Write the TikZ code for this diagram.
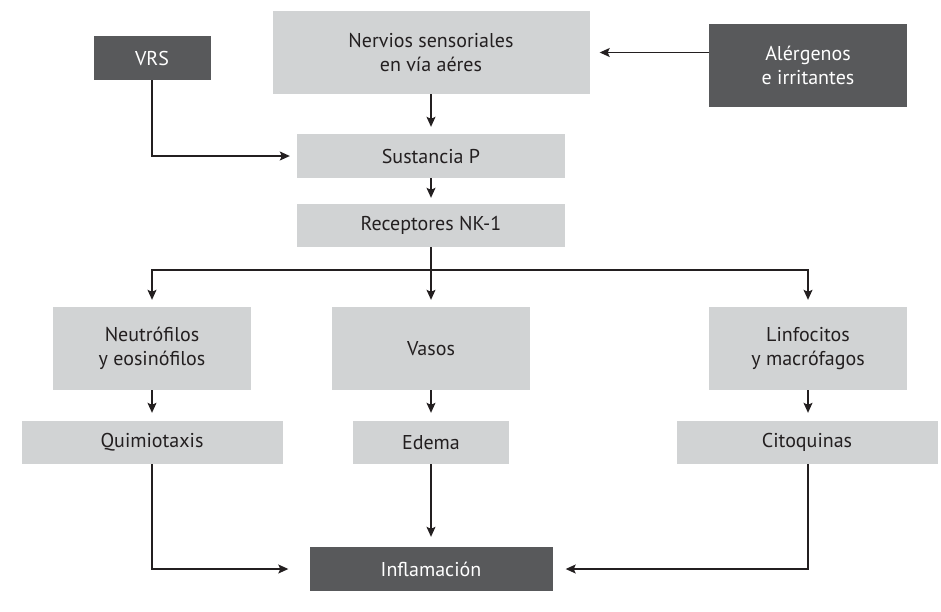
\documentclass[tikz,border=0pt]{standalone}
\usepackage{fontspec}
\setmainfont{PT Sans}
\usetikzlibrary{arrows.meta}
\definecolor{cajaclara}{HTML}{D1D3D4}
\definecolor{cajaoscura}{HTML}{58595B}
\definecolor{texto}{HTML}{231F20}

\begin{document}
\begin{tikzpicture}[x=1pt,y=-1pt,>={Stealth[length=10pt,width=9pt,inset=2pt]},
    clara/.style={fill=cajaclara,text=texto,inner sep=0pt,align=center,font=\fontsize{20}{24}\selectfont},
    oscura/.style={fill=cajaoscura,text=white,inner sep=0pt,align=center,font=\fontsize{20}{24}\selectfont},
    flecha/.style={->,draw=texto,line width=1.2pt}]

    \useasboundingbox (0,0) rectangle (941,611);

    % cajas de arriba
    \node[clara,minimum width=317,minimum height=83] (nervios) at (431,52.5) {Nervios sensoriales\\en vía aéres};
    \node[oscura,minimum width=117,minimum height=44] (vrs) at (152,58) {VRS};
    \node[oscura,minimum width=198,minimum height=83] (alergenos) at (808,65.5) {Alérgenos\\e irritantes};
    \node[clara,minimum width=268,minimum height=44] (sustancia) at (431,156) {Sustancia P};
    \node[clara,minimum width=268,minimum height=43] (receptores) at (431,225.5) {Receptores NK-1};

    % tres ramas
    \node[clara,minimum width=198,minimum height=83] (neutro) at (152,348.5) {Neutrófilos\\y eosinófilos};
    \node[clara,minimum width=198,minimum height=83] (vasos) at (431,348.5) {Vasos};
    \node[clara,minimum width=198,minimum height=83] (linfo) at (808,348.5) {Linfocitos\\y macrófagos};

    \node[clara,minimum width=261,minimum height=43] (quimio) at (152,442.5) {Quimiotaxis};
    \node[clara,minimum width=156,minimum height=43] (edema) at (431,442.5) {Edema};
    \node[clara,minimum width=261,minimum height=43] (citoq) at (807,442.5) {Citoquinas};

    \node[oscura,minimum width=243,minimum height=44] (inflam) at (431,569) {Inflamación};

    % flechas
    \draw[flecha,shorten >=7pt] (nervios) -- (sustancia);
    \draw[flecha,shorten >=6pt] (sustancia) -- (receptores);
    \draw[flecha,shorten >=7pt] (vrs.south) |- (sustancia.west);
    \draw[flecha,shorten >=10pt] (alergenos.west |- nervios.east) -- (nervios.east);

    \coordinate (rama) at (431,270);
    \draw[draw=texto,line width=1.2pt] (receptores) -- (rama);
    \draw[flecha,shorten >=7pt] (rama) -| (neutro.north);
    \draw[flecha,shorten >=7pt] (rama) -- (vasos);
    \draw[flecha,shorten >=7pt] (rama) -| (linfo.north);

    \draw[flecha,shorten >=8pt] (neutro) -- (quimio);
    \draw[flecha,shorten >=8pt] (vasos) -- (edema);
    \draw[flecha,shorten >=8pt] (linfo) -- (linfo.south |- citoq.north);

    \draw[flecha,shorten >=21pt] (quimio.south) |- (inflam.west);
    \draw[flecha,shorten >=10pt] (edema) -- (inflam);
    \draw[flecha,shorten >=13pt] (linfo.south |- citoq.south) |- (inflam.east);

\end{tikzpicture}
\end{document}
